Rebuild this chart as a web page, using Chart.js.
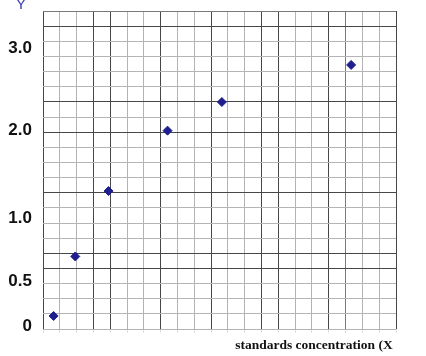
<!DOCTYPE html>
<html>
<head>
<meta charset="utf-8">
<script src="https://cdn.jsdelivr.net/npm/chart.js@4"></script>
<style>
  html, body { margin: 0; padding: 0; background: #fff; }
  #wrap { width: 426px; height: 356px; }
</style>
</head>
<body>
<div id="wrap"><canvas id="plot" width="426" height="356"></canvas></div>
<script>
// values (in grid squares from the lower left corner)
const xValues = [0.63, 1.92, 3.90, 7.41, 10.64, 18.33];
const yValues = [0.86, 4.79, 9.11, 13.10, 14.99, 17.44];

// y labels as printed on the sheet, and where they sit (grid squares)
const yTickLabels = ['0', '0.5', '1.0', '2.0', '3.0'];
const yTickAt = [0.20, 3.15, 7.28, 13.15, 18.52];

const xTitle = 'standards concentration (X ';

// heavier ruling lines on the scanned paper
const darkCols = [0, 3, 4, 7, 10, 13, 14, 17, 21];
const midCols = [18];
const darkRows = [4, 5, 9, 13, 15, 20];
const midRows = [21];

const LIGHT = '#b4b4b4';
const MID = '#7a7a7a';
const DARK = '#474747';

function lineColor(v, dark, mid) {
  if (!Number.isInteger(v)) return 'rgba(0,0,0,0)';
  if (dark.includes(v)) return DARK;
  if (mid.includes(v)) return MID;
  return LIGHT;
}

const cornerY = {
  id: 'cornerY',
  afterDraw(chart) {
    const ctx = chart.ctx;
    ctx.save();
    ctx.font = '15px "Liberation Sans", Arial, sans-serif';
    ctx.fillStyle = '#3b3bb0';
    ctx.textAlign = 'center';
    ctx.textBaseline = 'alphabetic';
    ctx.fillText('Y', 21, 9);
    ctx.restore();
  }
};

const points = xValues.map((x, i) => ({ x: x, y: yValues[i] }));

new Chart(document.getElementById('plot'), {
  type: 'scatter',
  data: {
    datasets: [{
      data: points,
      pointStyle: 'rectRot',
      pointRadius: 4.5,
      pointHoverRadius: 4.5,
      backgroundColor: '#1e1e8c',
      borderColor: '#1e1e8c',
      borderWidth: 1
    }]
  },
  options: {
    responsive: false,
    animation: false,
    events: [],
    layout: { padding: { top: 11, right: 30, bottom: 0, left: 0 } },
    plugins: {
      legend: { display: false },
      tooltip: { enabled: false }
    },
    scales: {
      x: {
        type: 'linear',
        min: 0,
        max: 21,
        afterBuildTicks(scale) {
          const t = [];
          for (let i = 0; i <= 21; i++) t.push({ value: i });
          scale.ticks = t;
        },
        afterFit(scale) {
          scale.height = 27;
          scale.paddingLeft = 0;
          scale.paddingRight = 0;
        },
        border: { display: false },
        grid: {
          color: (c) => lineColor(c.tick.value, darkCols, midCols),
          drawTicks: true,
          tickLength: 4,
          tickColor: 'rgba(190,190,190,0.5)'
        },
        ticks: { display: false, autoSkip: false },
        title: {
          display: true,
          text: xTitle,
          align: 'end',
          color: '#111',
          font: { family: '"Liberation Serif", "Times New Roman", serif', size: 13.5, weight: 'bold' },
          padding: { top: 0, bottom: 2 }
        }
      },
      y: {
        type: 'linear',
        min: 0,
        max: 21,
        afterBuildTicks(scale) {
          const vals = [];
          for (let i = 0; i <= 21; i++) vals.push(i);
          yTickAt.forEach(v => vals.push(v));
          vals.sort((a, b) => a - b);
          scale.ticks = vals.map(v => ({ value: v }));
        },
        afterFit(scale) {
          scale.width = 43;
          scale.paddingTop = 0;
          scale.paddingBottom = 0;
        },
        border: { display: false },
        grid: {
          color: (c) => lineColor(c.tick.value, darkRows, midRows),
          drawTicks: false
        },
        ticks: {
          autoSkip: false,
          padding: 11,
          color: '#111',
          font: { family: '"Liberation Sans", Arial, sans-serif', size: 17, weight: 'bold' },
          callback: (v) => {
            const k = yTickAt.indexOf(v);
            return k >= 0 ? yTickLabels[k] : '';
          }
        }
      }
    }
  },
  plugins: [cornerY]
});
</script>
</body>
</html>
